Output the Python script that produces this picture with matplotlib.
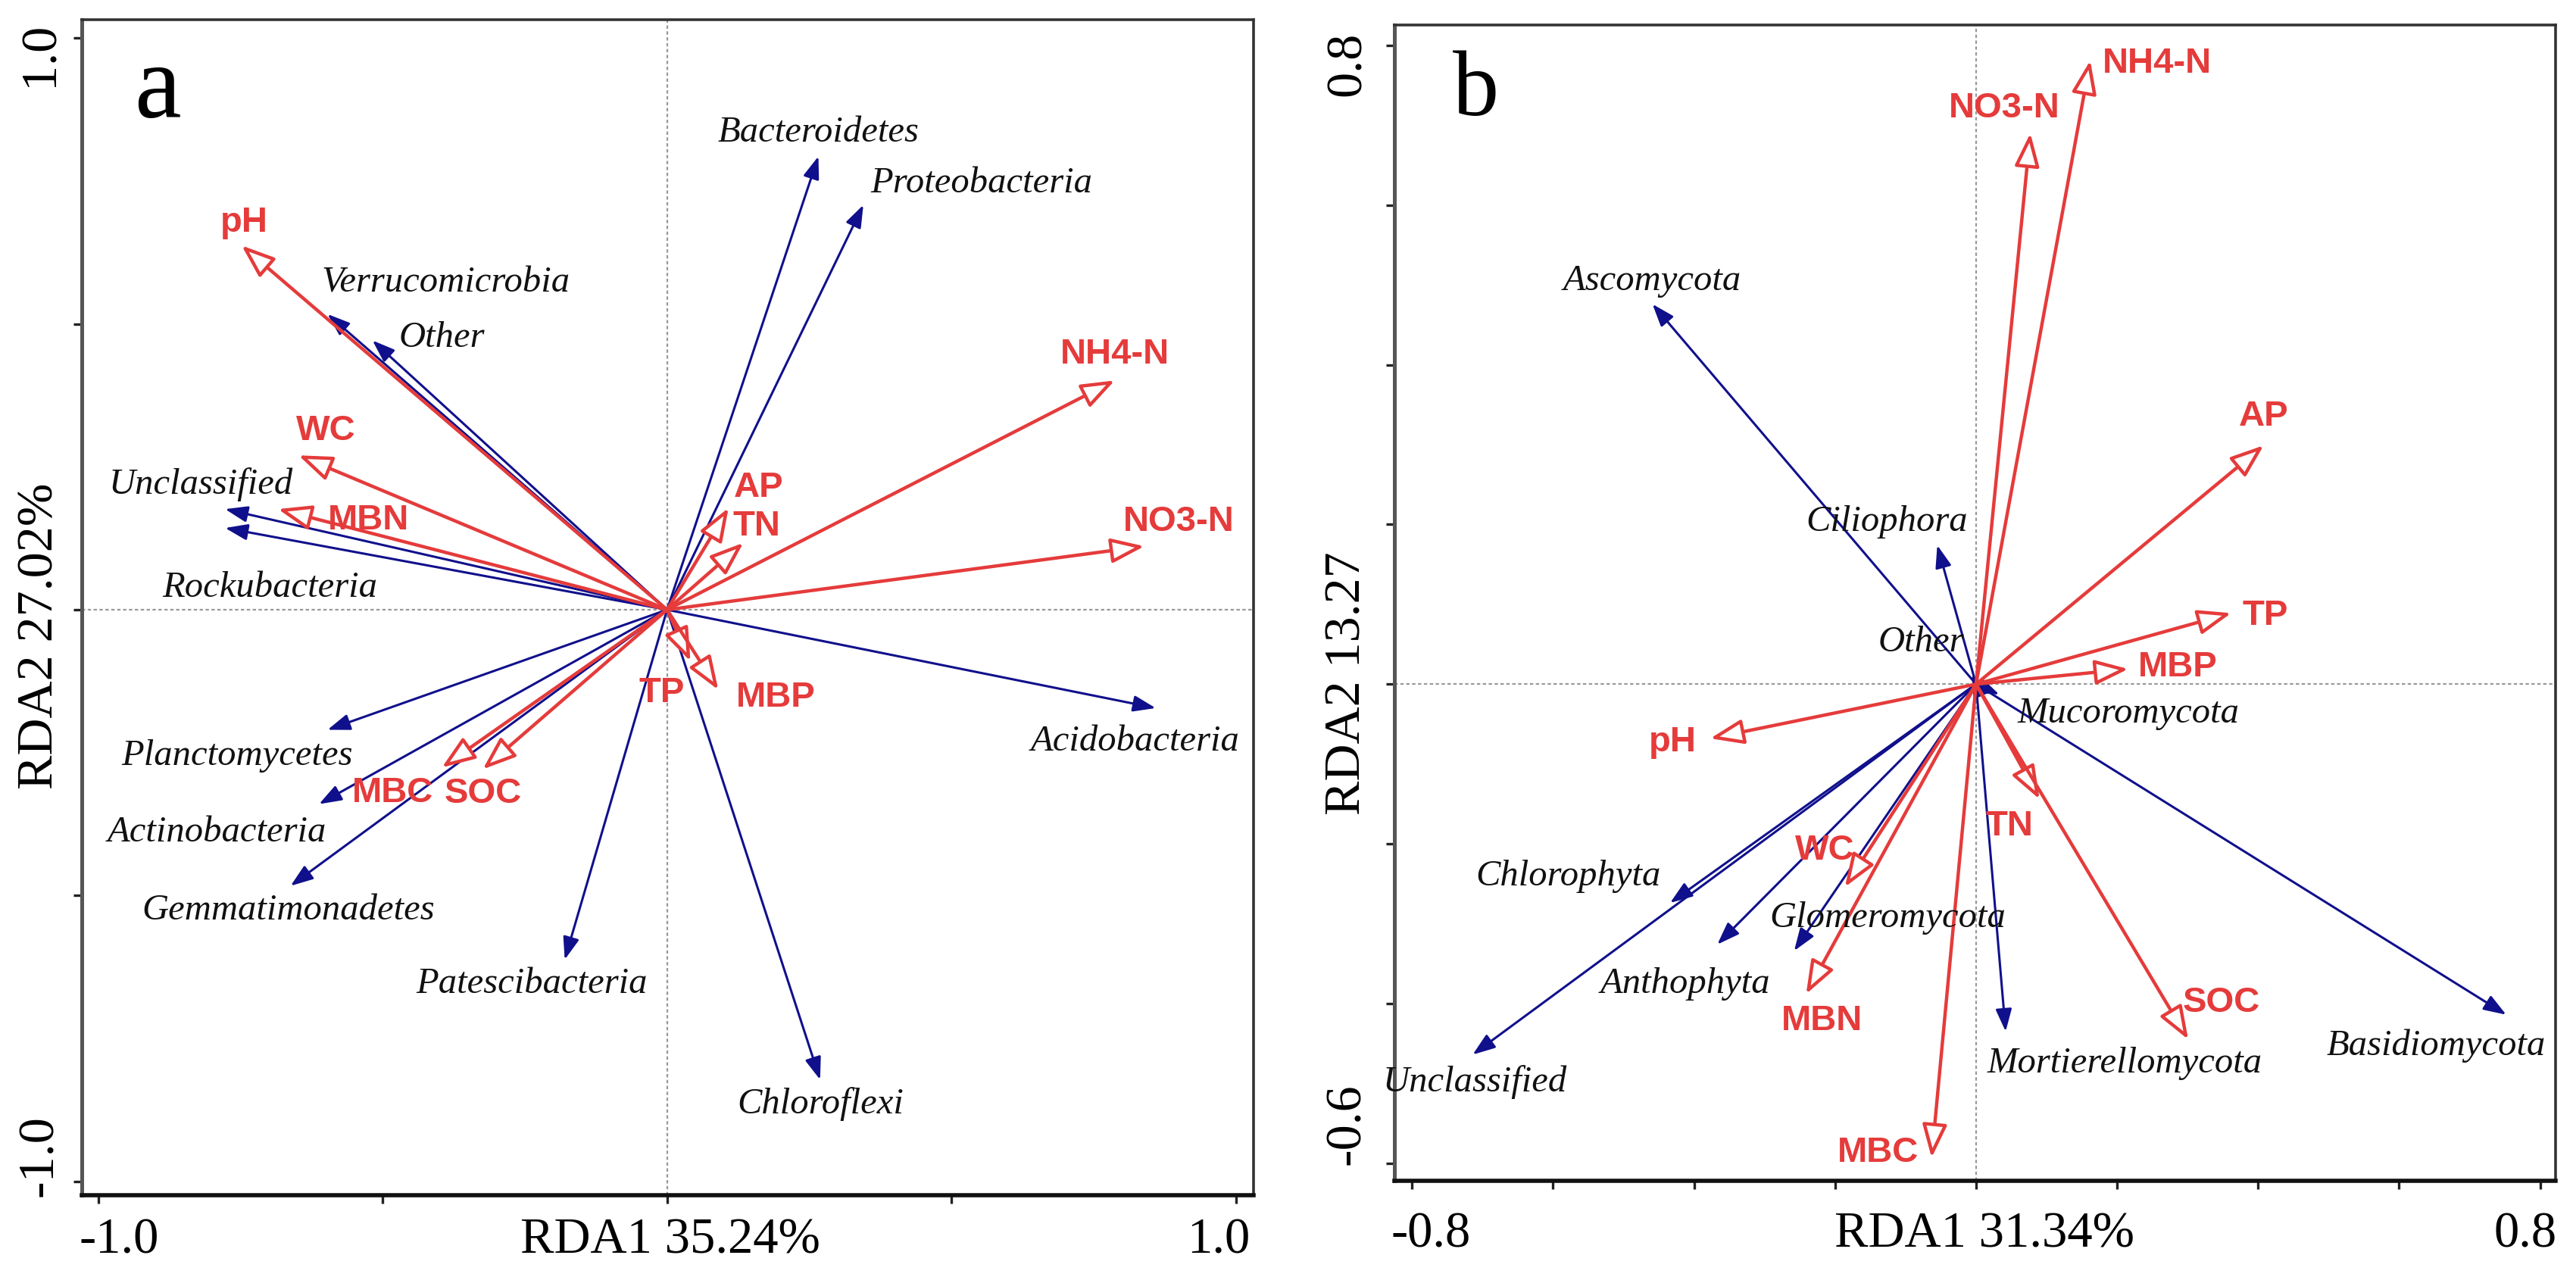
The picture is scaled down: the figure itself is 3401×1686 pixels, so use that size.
import matplotlib
matplotlib.use("Agg")
import matplotlib.pyplot as plt

# ---------------- data ----------------
# Panel a (bacteria)
a_species = ["Bacteroidetes", "Proteobacteria", "Verrucomicrobia", "Other", "Unclassified",
             "Rockubacteria", "Acidobacteria", "Planctomycetes", "Actinobacteria",
             "Gemmatimonadetes", "Patescibacteria", "Chloroflexi"]
a_species_x = [0.266, 0.345, -0.597, -0.518, -0.777, -0.777, 0.859, -0.597, -0.612, -0.662, -0.180, 0.269]
a_species_y = [0.793, 0.708, 0.517, 0.471, 0.176, 0.143, -0.172, -0.210, -0.340, -0.483, -0.612, -0.822]

a_env = ["pH", "WC", "MBN", "NH4-N", "NO3-N", "AP", "TN", "TP", "MBP", "MBC", "SOC"]
a_env_x = [-0.748, -0.648, -0.684, 0.787, 0.839, 0.108, 0.134, 0.041, 0.090, -0.396, -0.324]
a_env_y = [0.637, 0.270, 0.176, 0.401, 0.111, 0.178, 0.117, -0.090, -0.140, -0.276, -0.279]

# Panel b (eukaryotes / fungi)
b_species = ["Ascomycota", "Ciliophora", "Other", "Mucoromycota", "Chlorophyta", "Anthophyta",
             "Glomeromycota", "Unclassified", "Mortierellomycota", "Basidiomycota"]
b_species_x = [-0.459, -0.055, -0.006, 0.033, -0.434, -0.367, -0.258, -0.714, 0.042, 0.752]
b_species_y = [0.476, 0.174, 0.012, -0.013, -0.274, -0.326, -0.334, -0.464, -0.435, -0.414]

b_env = ["NH4-N", "NO3-N", "AP", "TP", "MBP", "pH", "TN", "WC", "MBN", "MBC", "SOC"]
b_env_x = [0.162, 0.077, 0.408, 0.362, 0.216, -0.377, 0.090, -0.186, -0.241, -0.063, 0.301]
b_env_y = [0.781, 0.690, 0.299, 0.089, 0.019, -0.068, -0.144, -0.254, -0.388, -0.593, -0.445]

a_xlabel, a_ylabel = "RDA1 35.24%", "RDA2 27.02%"
b_xlabel, b_ylabel = "RDA1 31.34%", "RDA2 13.27"

# ---------------- layout (label positions, data coords) ----------------
a_species_lab = [(0.266, 0.834), (0.553, 0.746), (-0.389, 0.572), (-0.396, 0.475), (-0.820, 0.219),
                 (-0.698, 0.039), (0.823, -0.230), (-0.756, -0.255), (-0.792, -0.390),
                 (-0.666, -0.526), (-0.238, -0.654), (0.270, -0.865)]
a_env_lab = [(-0.744, 0.677), (-0.600, 0.313), (-0.525, 0.156), (0.787, 0.446), (0.899, 0.154),
             (0.161, 0.213), (0.157, 0.146), (-0.009, -0.146), (0.191, -0.154),
             (-0.482, -0.320), (-0.324, -0.322)]
b_species_lab = [(-0.459, 0.505), (-0.127, 0.203), (-0.078, 0.052), (0.216, -0.037), (-0.578, -0.241),
                 (-0.413, -0.375), (-0.125, -0.293), (-0.711, -0.498), (0.211, -0.475), (0.653, -0.453)]
b_env_lab = [(0.257, 0.777), (0.040, 0.721), (0.408, 0.335), (0.410, 0.086), (0.286, 0.021),
             (-0.430, -0.073), (0.047, -0.178), (-0.214, -0.208), (-0.218, -0.422),
             (-0.139, -0.587), (0.348, -0.399)]

W, H = 3401, 1686
DPI = 200
RED = "#E53B3B"
BLUE = "#10108C"
SERIF = "Liberation Serif"
SANS = "Liberation Sans"

fig = plt.figure(figsize=(W / DPI, H / DPI), dpi=DPI)


def fx(px):
    return px / W


def fy(py):
    return 1 - py / H


def make_axes(l, r, t, b):
    return fig.add_axes([fx(l), fy(b), fx(r) - fx(l), fy(t) - fy(b)])


def draw_panel(ax, xlim, ylim, xticks, yticks, sp, sx, sy, sl, ev, ex, ey, el):
    ax.set_xlim(*xlim)
    ax.set_ylim(*ylim)
    ax.axhline(0, color="#9a9a9a", lw=0.8, ls=(0, (2, 1.5)), zorder=1)
    ax.axvline(0, color="#9a9a9a", lw=0.8, ls=(0, (2, 1.5)), zorder=1)
    for name, x, y, (lx, ly) in zip(sp, sx, sy, sl):
        ax.annotate("", xy=(x, y), xytext=(0, 0),
                    arrowprops=dict(arrowstyle="-|>,head_length=0.5,head_width=0.18",
                                    mutation_scale=18, lw=1.1, color=BLUE,
                                    shrinkA=0, shrinkB=0), zorder=3)
        ax.text(lx, ly, name, fontsize=17.5, style="italic", family=SERIF,
                ha="center", va="center", color="#111111", zorder=5)
    for name, x, y, (lx, ly) in zip(ev, ex, ey, el):
        ax.annotate("", xy=(x, y), xytext=(0, 0),
                    arrowprops=dict(arrowstyle="-|>,head_length=0.75,head_width=0.28",
                                    mutation_scale=18, lw=1.6, edgecolor=RED,
                                    facecolor="white", shrinkA=0, shrinkB=0), zorder=4)
        ax.text(lx, ly, name, fontsize=17, fontweight="bold", family=SANS,
                ha="center", va="center", color=RED, zorder=6)
    ax.set_xticks(xticks)
    ax.set_yticks(yticks)
    ax.tick_params(direction="out", length=4, width=1.2, labelleft=False,
                   labelbottom=False, color="#222222")
    for s in ax.spines.values():
        s.set_linewidth(1.3)
        s.set_color("#333333")
    ax.spines["left"].set_linewidth(1.8)
    ax.spines["left"].set_color("#555555")
    ax.spines["bottom"].set_linewidth(2.0)
    ax.spines["bottom"].set_color("#111111")


# Panel a
axa = make_axes(108, 1655, 26, 1578)
draw_panel(axa, (-1.029, 1.031), (-1.024, 1.032),
           [-1.0, -0.5, 0, 0.5, 1.0], [-1.0, -0.5, 0, 0.5, 1.0],
           a_species, a_species_x, a_species_y, a_species_lab,
           a_env, a_env_x, a_env_y, a_env_lab)
axa.text(-0.896, 0.861, "a", fontsize=50, family=SERIF, ha="center", va="baseline")

# Panel b
axb = make_axes(1841, 3374, 32.5, 1559)
draw_panel(axb, (-0.825, 0.822), (-0.622, 0.826),
           [-0.8, -0.6, -0.4, -0.2, 0, 0.2, 0.4, 0.6, 0.8],
           [-0.6, -0.4, -0.2, 0, 0.2, 0.4, 0.6, 0.8],
           b_species, b_species_x, b_species_y, b_species_lab,
           b_env, b_env_x, b_env_y, b_env_lab)
axb.text(-0.709, 0.713, "b", fontsize=44, family=SERIF, ha="center", va="baseline")

# Axis text (placed like the original R output)
XF = 24
YF = 24.5
fig.text(fx(53), fy(71), "1.0", rotation=90, fontsize=YF, family=SERIF, ha="center", va="center")
fig.text(fx(53), fy(1526), "-1.0", rotation=90, fontsize=YF, family=SERIF, ha="center", va="center")
fig.text(fx(53), fy(840), a_ylabel, rotation=90, fontsize=YF, family=SERIF, ha="center", va="center")
fig.text(fx(157), fy(1638), "-1.0", fontsize=XF, family=SERIF, ha="center", va="center")
fig.text(fx(885), fy(1638), a_xlabel, fontsize=XF, family=SERIF, ha="center", va="center")
fig.text(fx(1609), fy(1638), "1.0", fontsize=XF, family=SERIF, ha="center", va="center")

fig.text(fx(1779), fy(84), "0.8", rotation=90, fontsize=YF, family=SERIF, ha="center", va="center")
fig.text(fx(1779), fy(1484), "-0.6", rotation=90, fontsize=YF, family=SERIF, ha="center", va="center")
fig.text(fx(1779), fy(902), b_ylabel, rotation=90, fontsize=YF, family=SERIF, ha="center", va="center")
fig.text(fx(1889), fy(1630), "-0.8", fontsize=XF, family=SERIF, ha="center", va="center")
fig.text(fx(2620), fy(1630), b_xlabel, fontsize=XF, family=SERIF, ha="center", va="center")
fig.text(fx(3334), fy(1630), "0.8", fontsize=XF, family=SERIF, ha="center", va="center")

fig.savefig("out.png", dpi=DPI, facecolor="white")
